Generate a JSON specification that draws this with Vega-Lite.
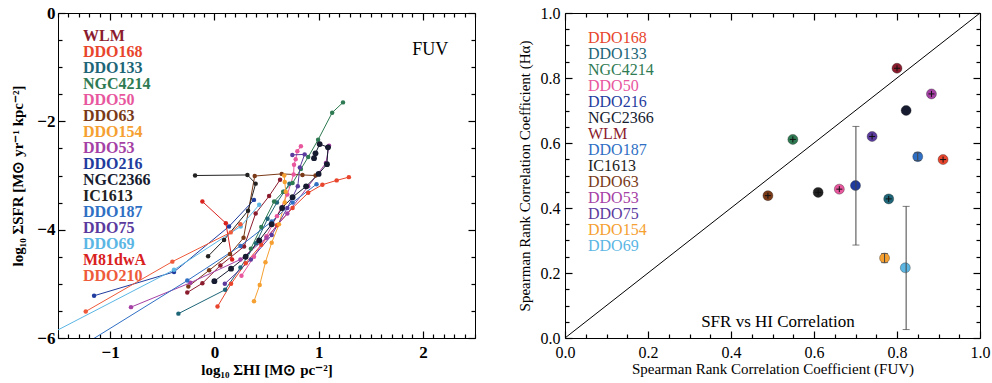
{
  "$schema": "https://vega.github.io/schema/vega-lite/v6.json",
  "background": "white",
  "padding": {"left": 10, "top": 3, "right": 4, "bottom": 2},
  "spacing": 39,
  "config": {
    "font": "Liberation Serif",
    "view": {"stroke": "#000", "strokeWidth": 1},
    "axis": {"domain": false, "grid": false, "ticks": true, "tickOpacity": 1, "tickColor": "#000", "tickWidth": 1.2, "zindex": 1, "labelColor": "#000", "titleColor": "#000", "labelFont": "Liberation Serif", "titleFont": "Liberation Serif", "labelOverlap": false, "labelFlush": false}
  },
  "resolve": {"legend": {"color": "independent"}},
  "hconcat": [
    {
      "width": 417,
      "height": 325,
      "data": {"values": [
        {"g": "WLM", "x": -0.26, "y": -5.16}, {"g": "WLM", "x": -0.115, "y": -4.99}, {"g": "WLM", "x": 0.058, "y": -4.66}, {"g": "WLM", "x": 0.285, "y": -4.31}, {"g": "WLM", "x": 0.396, "y": -3.7}, {"g": "WLM", "x": 0.525, "y": -3.38}, {"g": "WLM", "x": 0.63, "y": -3.08},
        {"g": "DDO168", "x": 0.03, "y": -5.42}, {"g": "DDO168", "x": 0.16, "y": -5.0}, {"g": "DDO168", "x": 0.3, "y": -4.62}, {"g": "DDO168", "x": 0.45, "y": -4.28}, {"g": "DDO168", "x": 0.6, "y": -3.92}, {"g": "DDO168", "x": 0.75, "y": -3.6}, {"g": "DDO168", "x": 0.9, "y": -3.32}, {"g": "DDO168", "x": 1.036, "y": -3.17}, {"g": "DDO168", "x": 1.173, "y": -3.09}, {"g": "DDO168", "x": 1.29, "y": -3.03},
        {"g": "DDO133", "x": -0.345, "y": -5.55}, {"g": "DDO133", "x": 0.103, "y": -5.11}, {"g": "DDO133", "x": 0.25, "y": -4.7}, {"g": "DDO133", "x": 0.4, "y": -4.25}, {"g": "DDO133", "x": 0.51, "y": -3.8}, {"g": "DDO133", "x": 0.6, "y": -3.5}, {"g": "DDO133", "x": 0.67, "y": -3.3}, {"g": "DDO133", "x": 0.72, "y": -3.15},
        {"g": "NGC4214", "x": 0.35, "y": -4.35}, {"g": "NGC4214", "x": 0.45, "y": -3.95}, {"g": "NGC4214", "x": 0.573, "y": -3.48}, {"g": "NGC4214", "x": 0.66, "y": -3.3}, {"g": "NGC4214", "x": 0.75, "y": -3.14}, {"g": "NGC4214", "x": 0.83, "y": -2.88}, {"g": "NGC4214", "x": 0.9, "y": -2.66}, {"g": "NGC4214", "x": 0.995, "y": -2.34}, {"g": "NGC4214", "x": 1.13, "y": -1.84}, {"g": "NGC4214", "x": 1.234, "y": -1.65},
        {"g": "DDO50", "x": 0.26, "y": -4.85}, {"g": "DDO50", "x": 0.38, "y": -4.5}, {"g": "DDO50", "x": 0.5, "y": -4.12}, {"g": "DDO50", "x": 0.6, "y": -3.75}, {"g": "DDO50", "x": 0.7, "y": -3.35}, {"g": "DDO50", "x": 0.76, "y": -2.98}, {"g": "DDO50", "x": 0.764, "y": -2.8}, {"g": "DDO50", "x": 0.78, "y": -2.7}, {"g": "DDO50", "x": 0.796, "y": -2.55}, {"g": "DDO50", "x": 0.83, "y": -2.46},
        {"g": "DDO63", "x": -0.25, "y": -5.05}, {"g": "DDO63", "x": -0.05, "y": -4.75}, {"g": "DDO63", "x": 0.15, "y": -4.45}, {"g": "DDO63", "x": 0.28, "y": -4.15}, {"g": "DDO63", "x": 0.387, "y": -3.01}, {"g": "DDO63", "x": 0.646, "y": -2.97}, {"g": "DDO63", "x": 0.845, "y": -2.99}, {"g": "DDO63", "x": 0.97, "y": -3.0},
        {"g": "DDO154", "x": 0.38, "y": -5.32}, {"g": "DDO154", "x": 0.435, "y": -5.02}, {"g": "DDO154", "x": 0.49, "y": -4.6}, {"g": "DDO154", "x": 0.55, "y": -4.24}, {"g": "DDO154", "x": 0.62, "y": -3.9}, {"g": "DDO154", "x": 0.675, "y": -3.5}, {"g": "DDO154", "x": 0.685, "y": -3.3}, {"g": "DDO154", "x": 0.675, "y": -3.12}, {"g": "DDO154", "x": 0.67, "y": -3.0},
        {"g": "DDO53", "x": -0.8, "y": -5.43}, {"g": "DDO53", "x": -0.23, "y": -4.98}, {"g": "DDO53", "x": 0.25, "y": -4.55}, {"g": "DDO53", "x": 0.5, "y": -4.15}, {"g": "DDO53", "x": 0.7, "y": -3.7}, {"g": "DDO53", "x": 0.9, "y": -3.2}, {"g": "DDO53", "x": 1.07, "y": -2.77}, {"g": "DDO53", "x": 1.1, "y": -2.45},
        {"g": "DDO216", "x": -1.154, "y": -5.22}, {"g": "DDO216", "x": -0.387, "y": -4.78}, {"g": "DDO216", "x": 0.141, "y": -3.94}, {"g": "DDO216", "x": 0.38, "y": -3.45},
        {"g": "NGC2366", "x": 0.0, "y": -4.95}, {"g": "NGC2366", "x": 0.16, "y": -4.72}, {"g": "NGC2366", "x": 0.3, "y": -4.5}, {"g": "NGC2366", "x": 0.43, "y": -4.2}, {"g": "NGC2366", "x": 0.55, "y": -3.9}, {"g": "NGC2366", "x": 0.65, "y": -3.6}, {"g": "NGC2366", "x": 0.75, "y": -3.4}, {"g": "NGC2366", "x": 0.88, "y": -3.2}, {"g": "NGC2366", "x": 1.0, "y": -2.97}, {"g": "NGC2366", "x": 1.08, "y": -2.79}, {"g": "NGC2366", "x": 1.09, "y": -2.48}, {"g": "NGC2366", "x": 1.01, "y": -2.42}, {"g": "NGC2366", "x": 0.97, "y": -2.59}, {"g": "NGC2366", "x": 0.956, "y": -2.68},
        {"g": "IC1613", "x": -0.185, "y": -3.0}, {"g": "IC1613", "x": 0.317, "y": -2.99}, {"g": "IC1613", "x": 0.396, "y": -3.15}, {"g": "IC1613", "x": 0.323, "y": -3.65}, {"g": "IC1613", "x": 0.093, "y": -4.19}, {"g": "IC1613", "x": -0.06, "y": -4.49},
        {"g": "DDO187", "x": -1.4, "y": -6.3}, {"g": "DDO187", "x": -0.26, "y": -4.94}, {"g": "DDO187", "x": 0.25, "y": -4.3}, {"g": "DDO187", "x": 0.55, "y": -3.85}, {"g": "DDO187", "x": 0.75, "y": -3.5}, {"g": "DDO187", "x": 0.98, "y": -3.16},
        {"g": "DDO75", "x": 0.1, "y": -5.0}, {"g": "DDO75", "x": 0.35, "y": -4.55}, {"g": "DDO75", "x": 0.55, "y": -4.1}, {"g": "DDO75", "x": 0.7, "y": -3.6}, {"g": "DDO75", "x": 0.8, "y": -3.2}, {"g": "DDO75", "x": 0.82, "y": -2.85}, {"g": "DDO75", "x": 0.866, "y": -2.61}, {"g": "DDO75", "x": 0.748, "y": -2.62},
        {"g": "DDO69", "x": -1.9, "y": -6.25}, {"g": "DDO69", "x": -0.387, "y": -4.74}, {"g": "DDO69", "x": 0.253, "y": -3.94}, {"g": "DDO69", "x": 0.43, "y": -3.54},
        {"g": "M81dwA", "x": -0.115, "y": -3.48}, {"g": "M81dwA", "x": 0.11, "y": -3.88}, {"g": "M81dwA", "x": 0.17, "y": -4.55},
        {"g": "DDO210", "x": -1.234, "y": -5.51}, {"g": "DDO210", "x": -0.403, "y": -4.59}, {"g": "DDO210", "x": 0.157, "y": -4.05}, {"g": "DDO210", "x": 0.25, "y": -3.9}
      ]},
      "layer": [
        {
          "mark": {"type": "line", "strokeWidth": 1, "clip": true},
          "encoding": {
            "x": {"field": "x", "type": "quantitative", "scale": {"domain": [-1.5, 2.5], "nice": false, "zero": false},
              "axis": {"orient": "bottom", "values": [-1, 0, 1, 2], "ticks": true, "tickSize": 7, "offset": -7, "format": "d",
                "labelFontSize": 17, "labelFontWeight": "bold", "labelPadding": 6,
                "title": "log₁₀ ΣHI [M⊙ pc⁻²]", "titleFontSize": 15, "titleFontWeight": "bold", "titlePadding": 2}},
            "y": {"field": "y", "type": "quantitative", "scale": {"domain": [-6, 0], "nice": false, "zero": false},
              "axis": {"orient": "left", "values": [-6, -4, -2, 0], "ticks": true, "tickSize": 7, "offset": -7, "format": "d",
                "labelFontSize": 17, "labelFontWeight": "bold", "labelPadding": 3,
                "title": "log₁₀ ΣSFR [M⊙ yr⁻¹ kpc⁻²]", "titleFontSize": 15, "titleFontWeight": "bold", "titlePadding": 11}},
            "color": {"field": "g", "type": "nominal",
              "scale": {"domain": ["WLM","DDO168","DDO133","NGC4214","DDO50","DDO63","DDO154","DDO53","DDO216","NGC2366","IC1613","DDO187","DDO75","DDO69","M81dwA","DDO210"],
                        "range": ["#8b1c2e","#e8452c","#1d6577","#2e7a52","#e8579e","#7a3a18","#f5a031","#a541a5","#1f3c9e","#161b30","#222222","#2f6fc4","#5b3a9e","#5bb6e4","#d9211e","#ee5a3a"]},
              "legend": {"orient": "none", "legendX": 9, "legendY": 15, "title": null, "padding": 0,
                "values": ["WLM","DDO168","DDO133","NGC4214","DDO50","DDO63","DDO154","DDO53","DDO216","NGC2366","IC1613","DDO187","DDO75","DDO69","M81dwA","DDO210"],
                "labelFont": "Liberation Serif", "labelFontSize": 16, "labelFontWeight": "bold", "labelLimit": 300,
                "symbolSize": 0, "symbolStrokeWidth": 0, "symbolOpacity": 0, "labelOffset": 0, "rowPadding": 0,
                "encode": {"labels": {"update": {"fill": {"scale": "color", "field": "value"}}}}}},
            "order": {"value": null}
          }
        },
        {
          "mark": {"type": "circle", "size": 20, "opacity": 1, "clip": true},
          "encoding": {
            "x": {"field": "x", "type": "quantitative", "scale": {"domain": [-1.5, 2.5], "nice": false, "zero": false},
              "axis": {"orient": "top", "values": [-1, 0, 1, 2], "ticks": true, "tickSize": 7, "offset": -7, "labels": false, "title": null}},
            "y": {"field": "y", "type": "quantitative", "scale": {"domain": [-6, 0], "nice": false, "zero": false},
              "axis": {"orient": "right", "values": [-6, -4, -2, 0], "ticks": true, "tickSize": 7, "offset": -7, "labels": false, "title": null}},
            "color": {"field": "g", "type": "nominal",
              "scale": {"domain": ["WLM","DDO168","DDO133","NGC4214","DDO50","DDO63","DDO154","DDO53","DDO216","NGC2366","IC1613","DDO187","DDO75","DDO69","M81dwA","DDO210"],
                        "range": ["#8b1c2e","#e8452c","#1d6577","#2e7a52","#e8579e","#7a3a18","#f5a031","#a541a5","#1f3c9e","#161b30","#222222","#2f6fc4","#5b3a9e","#5bb6e4","#d9211e","#ee5a3a"]}}
          }
        },
        {
          "transform": [{"filter": {"field": "g", "equal": "NGC2366"}}],
          "mark": {"type": "circle", "size": 34, "opacity": 1, "clip": true, "color": "#161b30"},
          "encoding": {
            "x": {"field": "x", "type": "quantitative", "scale": {"domain": [-1.5, 2.5], "nice": false, "zero": false},
              "axis": {"orient": "bottom", "values": [-1.5,-1.4,-1.3,-1.2,-1.1,-0.9,-0.8,-0.7,-0.6,-0.5,-0.4,-0.3,-0.2,-0.1,0.1,0.2,0.3,0.4,0.5,0.6,0.7,0.8,0.9,1.1,1.2,1.3,1.4,1.5,1.6,1.7,1.8,1.9,2.1,2.2,2.3,2.4,2.5],
                "ticks": true, "tickSize": 4, "offset": -4, "labels": false, "title": null}},
            "y": {"field": "y", "type": "quantitative", "scale": {"domain": [-6, 0], "nice": false, "zero": false},
              "axis": {"orient": "left", "values": [-5.5,-5,-4.5,-3.5,-3,-2.5,-1.5,-1,-0.5],
                "ticks": true, "tickSize": 4, "offset": -4, "labels": false, "title": null}}
          }
        },
        {
          "data": {"values": [{"t": "FUV", "x": 2.07, "y": -0.68}]},
          "mark": {"type": "text", "fontSize": 18, "font": "Liberation Serif", "align": "center", "baseline": "middle", "color": "#000"},
          "encoding": {
            "x": {"field": "x", "type": "quantitative", "scale": {"domain": [-1.5, 2.5], "nice": false, "zero": false},
              "axis": {"orient": "top", "values": [-1.5,-1.4,-1.3,-1.2,-1.1,-0.9,-0.8,-0.7,-0.6,-0.5,-0.4,-0.3,-0.2,-0.1,0.1,0.2,0.3,0.4,0.5,0.6,0.7,0.8,0.9,1.1,1.2,1.3,1.4,1.5,1.6,1.7,1.8,1.9,2.1,2.2,2.3,2.4,2.5],
                "ticks": true, "tickSize": 4, "offset": -4, "labels": false, "title": null}},
            "y": {"field": "y", "type": "quantitative", "scale": {"domain": [-6, 0], "nice": false, "zero": false},
              "axis": {"orient": "right", "values": [-5.5,-5,-4.5,-3.5,-3,-2.5,-1.5,-1,-0.5],
                "ticks": true, "tickSize": 4, "offset": -4, "labels": false, "title": null}},
            "text": {"field": "t"}
          }
        }
      ],
      "resolve": {"axis": {"x": "independent", "y": "independent"}}
    },
    {
      "width": 415,
      "height": 325,
      "layer": [
        {
          "data": {"values": [{"a": 0, "b": 0}, {"a": 1, "b": 1}]},
          "mark": {"type": "line", "color": "#000", "strokeWidth": 1},
          "encoding": {
            "x": {"field": "a", "type": "quantitative", "scale": {"domain": [0, 1], "nice": false},
              "axis": {"orient": "bottom", "values": [0, 0.2, 0.4, 0.6, 0.8, 1], "ticks": true, "tickSize": 7, "offset": -7, "format": ".1f",
                "labelFontSize": 16, "labelPadding": 6,
                "title": "Spearman Rank Correlation Coefficient (FUV)", "titleFontSize": 15, "titleFontWeight": "normal", "titlePadding": 1}},
            "y": {"field": "b", "type": "quantitative", "scale": {"domain": [0, 1], "nice": false},
              "axis": {"orient": "left", "values": [0, 0.2, 0.4, 0.6, 0.8, 1], "ticks": true, "tickSize": 7, "offset": -7, "format": ".1f",
                "labelFontSize": 16, "labelPadding": 5,
                "title": "Spearman Rank Correlation Coefficient (Hα)", "titleFontSize": 15, "titleFontWeight": "normal", "titlePadding": 8}}
          }
        },
        {
          "data": {"values": [
            {"g": "WLM", "fuv": 0.80, "ha": 0.83}, {"g": "DDO53", "fuv": 0.883, "ha": 0.751}, {"g": "NGC2366", "fuv": 0.822, "ha": 0.70},
            {"g": "DDO75", "fuv": 0.74, "ha": 0.62}, {"g": "NGC4214", "fuv": 0.549, "ha": 0.611}, {"g": "DDO187", "fuv": 0.85, "ha": 0.558},
            {"g": "DDO168", "fuv": 0.911, "ha": 0.549}, {"g": "DDO216", "fuv": 0.70, "ha": 0.469}, {"g": "DDO50", "fuv": 0.661, "ha": 0.458},
            {"g": "IC1613", "fuv": 0.61, "ha": 0.448}, {"g": "DDO63", "fuv": 0.489, "ha": 0.438}, {"g": "DDO133", "fuv": 0.78, "ha": 0.428},
            {"g": "DDO154", "fuv": 0.77, "ha": 0.246}, {"g": "DDO69", "fuv": 0.82, "ha": 0.216}
          ]},
          "mark": {"type": "circle", "size": 100, "opacity": 1, "stroke": "#222", "strokeOpacity": 0.35, "strokeWidth": 1},
          "encoding": {
            "x": {"field": "fuv", "type": "quantitative", "scale": {"domain": [0, 1], "nice": false},
              "axis": {"orient": "top", "values": [0, 0.2, 0.4, 0.6, 0.8, 1], "ticks": true, "tickSize": 7, "offset": -7, "labels": false, "title": null}},
            "y": {"field": "ha", "type": "quantitative", "scale": {"domain": [0, 1], "nice": false},
              "axis": {"orient": "right", "values": [0, 0.2, 0.4, 0.6, 0.8, 1], "ticks": true, "tickSize": 7, "offset": -7, "labels": false, "title": null}},
            "color": {"field": "g", "type": "nominal",
              "scale": {"domain": ["WLM","DDO168","DDO133","NGC4214","DDO50","DDO63","DDO154","DDO53","DDO216","NGC2366","IC1613","DDO187","DDO75","DDO69","M81dwA","DDO210"],
                        "range": ["#8b1c2e","#e8452c","#1d6577","#2e7a52","#e8579e","#7a3a18","#f5a031","#a541a5","#1f3c9e","#161b30","#222222","#2f6fc4","#5b3a9e","#5bb6e4","#d9211e","#ee5a3a"]},
              "legend": {"orient": "none", "legendX": 7, "legendY": 17, "title": null, "padding": 0,
                "values": ["DDO168","DDO133","NGC4214","DDO50","DDO216","NGC2366","WLM","DDO187","IC1613","DDO63","DDO53","DDO75","DDO154","DDO69"],
                "labelFont": "Liberation Serif", "labelFontSize": 16, "labelFontWeight": "normal", "labelLimit": 300,
                "labelColor": {"expr": "scale('color', datum.value)"},
                "symbolSize": 0, "symbolStrokeWidth": 0, "symbolOpacity": 0, "labelOffset": 0, "rowPadding": 0}}
          }
        },
        {
          "data": {"values": [
            {"fuv": 0.701, "lo": 0.286, "hi": 0.651}, {"fuv": 0.822, "lo": 0.026, "hi": 0.405},
            {"fuv": 0.77, "lo": 0.232, "hi": 0.26}, {"fuv": 0.85, "lo": 0.546, "hi": 0.57}
          ]},
          "mark": {"type": "errorbar", "ticks": {"size": 7, "color": "#444"}, "rule": {"color": "#444", "strokeWidth": 1}},
          "encoding": {
            "x": {"field": "fuv", "type": "quantitative", "axis": null, "scale": {"domain": [0, 1], "nice": false}},
            "y": {"field": "lo", "type": "quantitative", "axis": null, "scale": {"domain": [0, 1], "nice": false}},
            "y2": {"field": "hi"}
          }
        },
        {
          "data": {"values": [
            {"fuv": 0.80, "ha": 0.83}, {"fuv": 0.883, "ha": 0.751}, {"fuv": 0.74, "ha": 0.62}, {"fuv": 0.549, "ha": 0.611},
            {"fuv": 0.911, "ha": 0.549}, {"fuv": 0.661, "ha": 0.458}, {"fuv": 0.61, "ha": 0.448}, {"fuv": 0.489, "ha": 0.438}, {"fuv": 0.78, "ha": 0.428}
          ]},
          "mark": {"type": "point", "shape": "M-1,0H1M0,-1V1", "filled": false, "stroke": "#111", "strokeWidth": 1, "size": 36, "opacity": 1},
          "encoding": {
            "x": {"field": "fuv", "type": "quantitative", "scale": {"domain": [0, 1], "nice": false},
              "axis": {"orient": "bottom", "values": [0.05,0.1,0.15,0.25,0.3,0.35,0.45,0.5,0.55,0.65,0.7,0.75,0.85,0.9,0.95], "ticks": true, "tickSize": 4, "offset": -4, "labels": false, "title": null}},
            "y": {"field": "ha", "type": "quantitative", "scale": {"domain": [0, 1], "nice": false},
              "axis": {"orient": "left", "values": [0.05,0.1,0.15,0.25,0.3,0.35,0.45,0.5,0.55,0.65,0.7,0.75,0.85,0.9,0.95], "ticks": true, "tickSize": 4, "offset": -4, "labels": false, "title": null}}
          }
        },
        {
          "data": {"values": [{"t": "SFR vs HI Correlation", "fuv": 0.513, "ha": 0.05}]},
          "mark": {"type": "text", "fontSize": 17, "font": "Liberation Serif", "align": "center", "baseline": "middle", "color": "#000"},
          "encoding": {
            "x": {"field": "fuv", "type": "quantitative", "scale": {"domain": [0, 1], "nice": false},
              "axis": {"orient": "top", "values": [0.05,0.1,0.15,0.25,0.3,0.35,0.45,0.5,0.55,0.65,0.7,0.75,0.85,0.9,0.95], "ticks": true, "tickSize": 4, "offset": -4, "labels": false, "title": null}},
            "y": {"field": "ha", "type": "quantitative", "scale": {"domain": [0, 1], "nice": false},
              "axis": {"orient": "right", "values": [0.05,0.1,0.15,0.25,0.3,0.35,0.45,0.5,0.55,0.65,0.7,0.75,0.85,0.9,0.95], "ticks": true, "tickSize": 4, "offset": -4, "labels": false, "title": null}},
            "text": {"field": "t"}
          }
        }
      ],
      "resolve": {"axis": {"x": "independent", "y": "independent"}}
    }
  ]
}
